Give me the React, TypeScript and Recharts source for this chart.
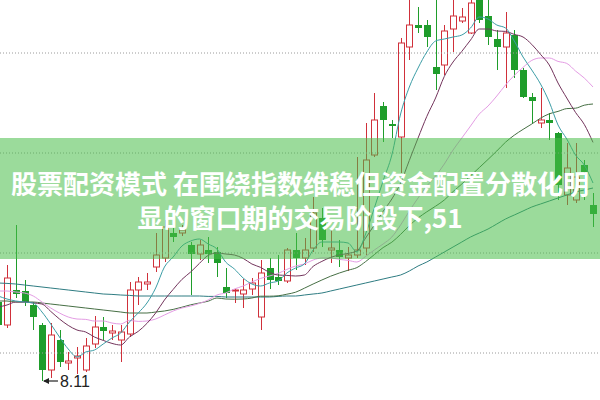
import React from 'react';
import { ComposedChart, Bar, Line, XAxis, YAxis, ReferenceLine, ReferenceDot } from 'recharts';

// trading-day index (first candle is only partly visible at the left edge)
const days: number[] = Array.from({ length: 69 }, (_, k) => k - 1);

const open: number[] = [8.505, 8.39, 8.565, 8.56, 8.49, 8.39, 8.165, 8.315, 8.2, 8.225, 8.165, 8.295, 8.38, 8.35, 8.315, 8.345, 8.565, 8.595, 8.68, 8.725, 8.85, 8.85, 8.79, 8.745, 8.765, 8.755, 8.58, 8.56, 8.545, 8.57, 8.43, 8.675, 8.63, 8.61, 8.765, 8.725, 8.775, 8.925, 8.765, 8.765, 8.725, 8.74, 8.775, 9.24, 9.485, 9.395, 9.33, 9.78, 9.89, 9.89, 9.68, 9.69, 9.87, 9.91, 9.85, 10.025, 9.935, 9.82, 9.78, 9.84, 9.665, 9.53, 9.4, 9.415, 9.35, 9.04, 9.015, 9.19, 8.99];
const high: number[] = [8.525, 8.69, 8.89, 8.615, 8.505, 8.4, 8.4, 8.365, 8.255, 8.28, 8.325, 8.435, 8.43, 8.39, 8.39, 8.605, 8.63, 8.65, 8.85, 8.915, 8.875, 8.89, 8.805, 8.815, 8.83, 8.78, 8.675, 8.57, 8.62, 8.625, 8.715, 8.725, 8.74, 8.775, 8.85, 8.825, 9.03, 8.975, 8.865, 8.815, 8.78, 9.23, 9.4, 9.55, 9.505, 9.415, 9.825, 10.025, 9.98, 9.915, 10.04, 9.89, 10.03, 9.975, 10.03, 10.04, 10.025, 9.865, 9.955, 9.865, 9.675, 9.55, 9.575, 9.45, 9.355, 9.3, 9.3, 9.215, 9.05];
const low: number[] = [8.365, 8.375, 8.525, 8.485, 8.365, 8.11, 8.125, 8.18, 8.165, 8.145, 8.155, 8.275, 8.315, 8.315, 8.205, 8.33, 8.49, 8.565, 8.655, 8.705, 8.805, 8.835, 8.54, 8.715, 8.7, 8.63, 8.525, 8.5, 8.475, 8.54, 8.365, 8.57, 8.59, 8.6, 8.665, 8.69, 8.755, 8.78, 8.7, 8.68, 8.66, 8.725, 8.74, 9.23, 9.305, 9.325, 9.15, 9.715, 9.85, 9.78, 9.565, 9.64, 9.755, 9.9, 9.845, 9.9, 9.79, 9.665, 9.575, 9.625, 9.525, 9.4, 9.375, 9.315, 9.015, 8.99, 9.0, 9.015, 8.88];
const close: number[] = [8.39, 8.625, 8.545, 8.505, 8.43, 8.165, 8.34, 8.205, 8.21, 8.235, 8.285, 8.38, 8.36, 8.36, 8.355, 8.565, 8.605, 8.605, 8.74, 8.88, 8.83, 8.865, 8.745, 8.79, 8.745, 8.7, 8.55, 8.565, 8.565, 8.6, 8.65, 8.615, 8.61, 8.765, 8.725, 8.765, 8.95, 8.815, 8.775, 8.73, 8.74, 8.765, 9.215, 9.415, 9.415, 9.385, 9.8, 9.89, 9.875, 9.83, 9.645, 9.86, 9.935, 9.93, 10.0, 9.915, 9.83, 9.78, 9.85, 9.665, 9.53, 9.51, 9.415, 9.4, 9.09, 9.175, 9.13, 9.155, 8.945];

const ma5: number[] = [8.535, 8.52, 8.51, 8.505, 8.5, 8.455, 8.395, 8.33, 8.27, 8.23, 8.255, 8.265, 8.295, 8.325, 8.35, 8.405, 8.45, 8.5, 8.575, 8.68, 8.73, 8.785, 8.81, 8.82, 8.795, 8.77, 8.705, 8.67, 8.625, 8.595, 8.585, 8.6, 8.61, 8.65, 8.675, 8.695, 8.765, 8.805, 8.805, 8.805, 8.8, 8.755, 8.845, 8.975, 9.11, 9.24, 9.445, 9.58, 9.675, 9.755, 9.81, 9.82, 9.83, 9.84, 9.875, 9.93, 9.92, 9.89, 9.875, 9.81, 9.73, 9.665, 9.595, 9.505, 9.39, 9.32, 9.24, 9.19, 9.1];
const ma10: number[] = [8.48, 8.49, 8.505, 8.505, 8.5, 8.495, 8.458, 8.42, 8.388, 8.365, 8.355, 8.33, 8.313, 8.298, 8.29, 8.33, 8.358, 8.398, 8.45, 8.515, 8.568, 8.618, 8.655, 8.698, 8.738, 8.75, 8.745, 8.74, 8.723, 8.695, 8.678, 8.653, 8.64, 8.638, 8.635, 8.64, 8.683, 8.708, 8.728, 8.74, 8.748, 8.76, 8.825, 8.89, 8.958, 9.02, 9.1, 9.213, 9.325, 9.433, 9.525, 9.633, 9.705, 9.758, 9.815, 9.87, 9.87, 9.86, 9.858, 9.843, 9.83, 9.793, 9.743, 9.69, 9.6, 9.525, 9.453, 9.393, 9.303];
const ma20: number[] = [8.56, 8.56, 8.555, 8.55, 8.535, 8.505, 8.475, 8.45, 8.43, 8.42, 8.418, 8.41, 8.41, 8.4, 8.395, 8.413, 8.408, 8.41, 8.42, 8.44, 8.46, 8.475, 8.485, 8.498, 8.515, 8.54, 8.55, 8.57, 8.585, 8.605, 8.623, 8.635, 8.648, 8.668, 8.685, 8.695, 8.715, 8.725, 8.725, 8.718, 8.713, 8.705, 8.733, 8.765, 8.795, 8.83, 8.89, 8.96, 9.025, 9.085, 9.135, 9.195, 9.265, 9.325, 9.385, 9.445, 9.485, 9.535, 9.59, 9.638, 9.678, 9.713, 9.725, 9.725, 9.708, 9.698, 9.66, 9.625, 9.58];
const ma30: number[] = [8.51, 8.51, 8.505, 8.505, 8.505, 8.5, 8.495, 8.49, 8.485, 8.48, 8.475, 8.47, 8.465, 8.46, 8.455, 8.45, 8.45, 8.45, 8.455, 8.46, 8.468, 8.479, 8.491, 8.5, 8.509, 8.525, 8.52, 8.519, 8.52, 8.525, 8.534, 8.534, 8.536, 8.544, 8.554, 8.574, 8.595, 8.615, 8.634, 8.65, 8.664, 8.677, 8.707, 8.742, 8.777, 8.804, 8.843, 8.887, 8.925, 8.956, 8.984, 9.015, 9.057, 9.095, 9.136, 9.177, 9.218, 9.26, 9.304, 9.339, 9.368, 9.395, 9.424, 9.446, 9.458, 9.472, 9.474, 9.489, 9.495];
const ma60: number[] = [8.6, 8.598, 8.595, 8.59, 8.585, 8.58, 8.575, 8.57, 8.565, 8.56, 8.555, 8.55, 8.545, 8.543, 8.54, 8.538, 8.535, 8.535, 8.535, 8.535, 8.535, 8.535, 8.535, 8.535, 8.533, 8.533, 8.53, 8.53, 8.53, 8.53, 8.53, 8.53, 8.533, 8.535, 8.535, 8.54, 8.545, 8.55, 8.56, 8.57, 8.58, 8.59, 8.6, 8.61, 8.62, 8.63, 8.64, 8.66, 8.685, 8.705, 8.73, 8.755, 8.78, 8.805, 8.83, 8.85, 8.87, 8.895, 8.92, 8.94, 8.96, 8.98, 8.995, 9.01, 9.025, 9.04, 9.055, 9.065, 9.075];

const gridValues: number[] = [8.25, 8.75, 9.25, 9.75];
const lowMark = { day: 4, price: 8.11, label: '8.11' };
const bannerLines: string[] = ['股票配资模式 在围绕指数维稳但资金配置分散化明', '显的窗口期的交易阶段下,51'];

const RED = '#d0303a';
const GREEN = '#1f9d2b';

const data = days.map((d, k) => ({
  day: d,
  open: open[k],
  high: high[k],
  low: low[k],
  close: close[k],
  range: [low[k], high[k]],
  ma5: ma5[k],
  ma10: ma10[k],
  ma20: ma20[k],
  ma30: ma30[k],
  ma60: ma60[k],
}));

const Candle = (props: any) => {
  const { x, y, width, height } = props;
  const d = props.payload ?? props;
  if (x == null || y == null || d == null) return null;
  const { open: o, close: c, high: h, low: l } = d;
  const top = Math.min(y, y + height);
  const hpx = Math.abs(height);
  const ratio = hpx / (h - l);
  const cx = Math.round(x + width / 2) + 0.5;
  const up = c >= o;
  const bTop = top + (h - Math.max(o, c)) * ratio;
  let bBot = top + (h - Math.min(o, c)) * ratio;
  if (bBot - bTop < 1) bBot = bTop + 1;
  const yHigh = top;
  const yLow = top + hpx;
  if (up) {
    return (
      <g>
        <line x1={cx} x2={cx} y1={yHigh} y2={bTop} stroke={RED} strokeWidth={1} />
        <line x1={cx} x2={cx} y1={bBot} y2={yLow} stroke={RED} strokeWidth={1} />
        <rect x={cx - 3} y={bTop} width={6} height={bBot - bTop} fill="#ffffff" stroke={RED} strokeWidth={1} />
      </g>
    );
  }
  return (
    <g>
      <line x1={cx} x2={cx} y1={yHigh} y2={yLow} stroke={GREEN} strokeWidth={1} />
      <rect x={cx - 3.5} y={bTop} width={7} height={bBot - bTop} fill={GREEN} />
    </g>
  );
};

const LowLabel = (props: any) => {
  const { cx, cy } = props;
  if (cx == null || cy == null) return null;
  return (
    <g>
      <line x1={cx + 2} x2={cx + 16} y1={cy} y2={cy} stroke="#222" strokeWidth={1.2} />
      <polygon points={`${cx + 1},${cy} ${cx + 7},${cy - 3} ${cx + 7},${cy + 3}`} fill="#222" />
      <text x={cx + 18} y={cy + 6} fontSize={16} fontFamily="Liberation Sans, Arial, sans-serif" fill="#222">
        {lowMark.label}
      </text>
    </g>
  );
};

export default function App() {
  return (
    <div style={{ position: 'absolute', left: 0, top: 0, width: 600, height: 400, background: '#ffffff', overflow: 'hidden' }}>
      <ComposedChart width={600} height={400} data={data} margin={{ top: 0, right: 0, bottom: 0, left: 0 }}>
        <XAxis dataKey="day" type="number" domain={[-0.8, 67.8]} hide allowDataOverflow />
        <YAxis type="number" domain={[8.015, 10.015]} hide allowDataOverflow />
        {gridValues.map((v) => (
          <ReferenceLine key={v} y={v} stroke="#9a9a9a" strokeDasharray="1 2" strokeWidth={1} />
        ))}
        <Bar dataKey="range" barSize={7} isAnimationActive={false} shape={(p: any) => <Candle {...p} />} />
        <Line type="monotone" dataKey="ma60" stroke="#2e7c82" strokeWidth={1} dot={false} isAnimationActive={false} />
        <Line type="monotone" dataKey="ma30" stroke="#466f44" strokeWidth={1} dot={false} isAnimationActive={false} />
        <Line type="monotone" dataKey="ma20" stroke="#e49ce4" strokeWidth={1} dot={false} isAnimationActive={false} />
        <Line type="monotone" dataKey="ma10" stroke="#73345c" strokeWidth={1} dot={false} isAnimationActive={false} />
        <Line type="monotone" dataKey="ma5" stroke="#3c9da6" strokeWidth={1} dot={false} isAnimationActive={false} />
        <ReferenceDot x={lowMark.day} y={lowMark.price} r={0} shape={(p: any) => <LowLabel {...p} />} />
      </ComposedChart>
      <div
        style={{
          position: 'absolute',
          left: 0,
          top: 138,
          width: 600,
          height: 121,
          background: 'rgba(72, 190, 72, 0.55)',
          color: '#ffffff',
          fontFamily: '"Noto Sans CJK SC", "Noto Sans", sans-serif',
          fontWeight: 700,
          fontSize: 26,
          lineHeight: '34px',
          textAlign: 'center',
          boxSizing: 'border-box',
          paddingTop: 28,
        }}
      >
        {bannerLines.map((t) => (
          <div key={t} style={{ whiteSpace: 'nowrap' }}>{t}</div>
        ))}
      </div>
    </div>
  );
}
